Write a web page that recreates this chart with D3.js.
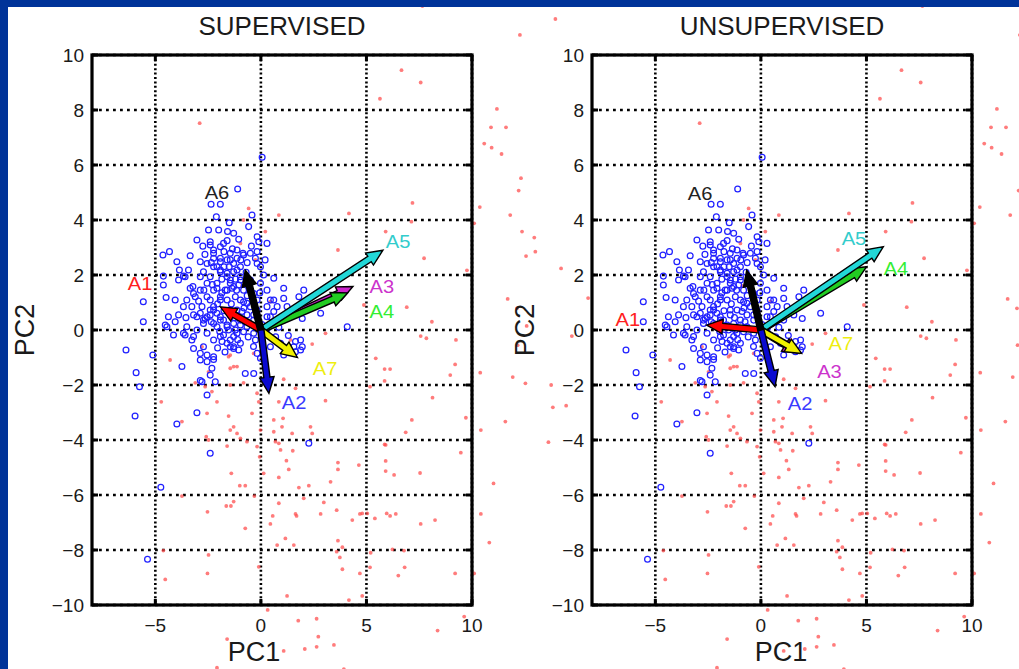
<!DOCTYPE html>
<html>
<head>
<meta charset="utf-8">
<script src="https://cdn.jsdelivr.net/npm/d3@7"></script>
<style>
body{margin:0;background:#fff;}
svg{display:block;}
text{font-family:"Liberation Sans",Arial,sans-serif;}
</style>
</head>
<body>
<div id="chart"></div>
<script>

// ---- data ----
var xTicks = [-5, 0, 5, 10];
var yTicks = [-10, -8, -6, -4, -2, 0, 2, 4, 6, 8, 10];
var panelTitles = ["SUPERVISED", "UNSUPERVISED"];
var axisNames = ["PC1", "PC2"];

var arrowNames = ["A1", "A2", "A3", "A4", "A5", "A6", "A7"];

// supervised arrows: tip positions and label centres
var supTipX = [-1.92, 0.38, 4.36, 4.11, 5.78, -0.74, 1.73];
var supTipY = [0.84, -2.30, 1.58, 1.35, 2.90, 2.18, -1.00];
var supLabelX = [-5.72, 1.57, 5.73, 5.73, 6.50, -2.08, 3.04];
var supLabelY = [1.67, -2.65, 1.56, 0.67, 3.22, 5.00, -1.40];

// unsupervised arrows
var unsTipX = [-2.57, 0.67, 1.80, 5.01, 5.80, -0.67, 1.93];
var unsTipY = [0.18, -2.06, -0.85, 2.30, 3.03, 2.18, -0.85];
var unsLabelX = [-6.30, 1.86, 3.25, 6.40, 4.41, -2.88, 3.79];
var unsLabelY = [0.36, -2.67, -1.51, 2.24, 3.31, 4.95, -0.51];

// red dots (other class)
var redDots = [
 [6.66,9.45],[7.57,9.0],[5.64,8.41],[11.18,8.04],[10.9,7.37],[11.61,7.37],[10.58,6.78],[10.93,6.63],[11.4,6.4],
 [12.32,5.52],[12.21,5.07],[7.18,4.62],[10.37,4.47],[7.13,3.94],[10.1,3.88],[11.81,4.18],[5.91,3.58],[12.37,3.58],
 [12.95,3.36],[7.73,2.61],[12.56,2.69],[13.0,2.85],[9.76,2.17],[14.22,2.24],[11.69,1.13],[6.91,0.83],[4.88,0.91],
 [8.1,0.3],[15.5,1.16],[12.59,0.15],[12.13,0.79],[-2.9,7.52],[7.65,11.78],[12.27,10.73],[13.95,11.31],
 [7.57,-0.22],[7.84,-0.3],[9.24,-0.36],[12.16,-0.55],[14.73,-0.22],[5.44,-1.03],[5.86,-1.42],[6.12,-1.42],[9.2,-1.25],
 [8.97,-1.64],[10.39,-1.55],[11.93,-1.71],[12.53,-1.94],[13.75,-2.0],[5.86,-1.85],[5.17,-2.06],[8.13,-2.46],
 [13.83,-2.81],[14.46,-2.75],[7.15,-3.27],[9.71,-3.19],[11.58,-3.33],[6.86,-3.72],[10.42,-3.64],[13.62,-4.08],
 [5.86,-4.16],[9.47,-4.46],[5.91,-4.76],[5.91,-5.13],[6.31,-5.27],[7.54,-5.2],[11.02,-5.58],[4.8,-6.67],[5.04,-6.67],
 [5.4,-6.85],[5.96,-6.67],[6.12,-6.76],[6.39,-6.69],[7.57,-7.05],[8.25,-6.91],[10.42,-6.69],[10.82,-7.73],[5.2,-8.1],
 [6.23,-7.98],[6.78,-8.02],[5.17,-8.63],[6.81,-8.63],[6.51,-8.93],[9.2,-8.85],[10.1,-8.85],[4.8,-9.67],[9.63,-10.42],
 [8.37,-10.93],
 [-1.6,-4.22],[-0.18,-4.24],[0.85,-4.12],[5.91,-4.18],[1.51,-4.39],[-1.4,-5.21],[-0.06,-4.61],[0.13,-5.21],[1.21,-4.75],
 [1.32,-5.07],[0.85,-5.36],[3.65,-4.82],[3.65,-5.07],[4.64,-4.91],[-1.0,-5.66],[-0.74,-5.66],[1.8,-5.73],[2.27,-5.66],
 [3.3,-5.52],[-3.74,-6.04],[-0.31,-6.04],[2.03,-6.12],[2.98,-6.27],[0.85,-6.3],[-1.29,-6.24],[-1.64,-6.4],[-1.42,-6.4],
 [-2.53,-6.61],[0.56,-6.76],[1.64,-6.69],[1.69,-6.76],[2.83,-6.69],[3.59,-6.55],[4.33,-6.91],[4.69,-6.69],[0.45,-7.05],
 [-0.74,-7.21],[1.16,-7.58],[0.77,-7.82],[1.56,-7.82],[3.65,-7.66],[3.86,-7.9],[3.59,-8.06],[3.74,-8.27],[3.86,-8.7],
 [4.69,-8.85],[4.17,-9.82],[1.24,-9.67],[-0.1,-8.61],[-2.48,-8.18],[-2.53,-8.85],[-4.62,-8.02],[-4.53,-9.07],
 [0.32,-10.18],[1.77,-10.57],[2.64,-10.5],[2.72,-11.15],[-1.6,-11.24],[1.08,-11.67],[2.08,-11.6],[2.64,-11.52],
 [3.46,-11.45],[-2.08,-12.28],[3.93,-12.33],
 [-0.58,4.42],[0.85,4.18],[4.17,4.24],[3.65,2.91],[0.21,3.58],[-0.97,3.15],[3.06,-0.12],[2.43,-0.51],[3.06,-2.57],
 [1.08,-1.79],[0.85,-2.61],[-0.1,-2.61],[0.61,-3.27],[1.05,-3.21],[1.0,-3.52],[-1.29,-3.52],[-1.45,-3.64],[-2.08,-2.61],
 [-2.55,-3.03],[-3.74,-3.33],[-4.72,-2.61],[-4.3,-1.09],[-2.79,-0.61],[-2.64,-2.06],[-3.11,-1.92],[-1.45,-0.91],
 [-1.29,-1.33],[-0.82,-1.92],[-0.18,-2.3],[-0.97,-3.94],[1.48,-3.76],[2.43,-3.76],
 [-1.53,-0.97],[-1.45,-1.39],[-1.13,-1.33],[-2.48,-1.52],[-1.53,-3.13],[-1.13,-3.76],[-2.59,-3.88],[-2.48,-4.0],
 [-1.45,-2.0],[-2.32,-2.24],[1.4,-0.36],[-0.34,-0.85],[1.64,-2.12],[-0.42,-3.03],[0.61,-3.7],[2.35,-3.52],[-0.02,-3.64],
 [0.69,-4.06],[0.93,-4.36],[-0.66,-4.06],[-0.26,2.55],[0.45,1.03],[-0.82,4.0],[-0.89,1.6]
];

// blue circles (cluster class)
var blueCircles = [
 [-1.1,5.13],[-2.36,4.57],[-1.92,4.57],[-2.11,4.12],[-2.48,3.64],[-2.0,3.64],[-1.58,3.58],[-3.03,3.27],[-2.4,3.21],
 [-1.6,3.25],[-1.13,2.91],[-4.64,2.73],[-4.33,2.85],[-2.87,2.48],[-2.24,2.79],[-1.92,2.61],[-2.08,2.3],[-1.45,2.55],
 [-1.13,2.61],[-3.98,2.48],[-3.86,2.18],[-3.43,2.18],[-3.9,1.82],[-4.62,1.96],[-4.62,1.64],[-5.57,1.03],[-4.49,1.18],
 [-3.67,1.96],[-3.22,1.58],[-2.87,1.94],[-2.55,1.7],[-3.11,1.21],[-3.27,0.85],[-2.79,0.85],[-2.4,1.09],[-1.92,1.21],
 [-2.24,0.73],[-3.03,0.48],[-4.38,0.48],[-1.92,2.18],[-1.6,2.06],[-1.45,1.82],[-1.13,2.18],[-0.97,1.94],[-2.08,1.52],
 [-1.69,1.45],[-1.37,1.52],[-1.05,1.64],[-1.6,1.09],[-1.21,1.21],[-0.82,1.03],[-2.64,0.42],[-1.92,0.48],[-1.45,0.55],
 [-0.42,4.18],[-1.29,3.52],[-0.18,3.39],[0.29,3.15],[-0.58,3.76],[-2.4,3.09],[-2.24,2.91],[-1.92,3.03],[-1.77,3.15],
 [-1.45,2.79],[-0.82,2.73],[-0.5,2.79],[-0.18,2.85],[-0.18,2.42],[0.13,2.0],[0.61,1.88],[-3.59,1.94],[-4.06,1.09],
 [-3.35,1.52],[-3.19,1.33],[-2.87,1.45],[-2.55,1.21],[-2.24,1.45],[-2.4,0.73],[-5.57,0.3],[-4.45,0.12],[-3.9,0.55],
 [-3.19,0.55],[-2.72,0.36],[-4.14,-0.18],[-3.67,-0.12],[-3.19,-0.24],[-3.27,-0.36],[-3.19,-0.67],[-2.72,-0.61],
 [-2.24,-0.36],[-1.92,-0.24],[-1.45,-0.36],[-1.29,-0.61],[-0.97,-0.48],[-2.87,-0.85],[-2.55,-0.91],[-2.24,-0.97],
 [-2.87,-1.09],[-3.74,-1.33],[-2.32,-1.39],[-2.4,-1.64],[-6.39,-0.73],[-5.12,-0.91],[-5.91,-1.55],[-5.75,-2.06],
 [-5.96,-3.13],[-3.98,-3.42],[-3.03,-3.01],[-2.55,-2.36],[-2.79,-1.88],[-2.16,-1.88],[-0.74,-1.58],[-0.34,-1.58],
 [-0.18,-0.85],[-0.02,-1.03],[1.08,-0.91],[1.88,-0.36],[1.96,-0.61],[1.56,-0.61],[4.09,0.12],[2.83,0.61],[1.96,0.42],
 [2.03,1.45],[1.08,1.52],[1.08,1.15],[0.77,0.85],[1.24,0.85],[0.29,1.45],[0.45,1.09],[-0.97,1.09],[-0.66,0.97],
 [-1.45,0.73],[-1.13,0.73],[-0.66,0.55],[-0.97,0.36],[-1.29,0.24],[-1.6,0.12],[-1.13,-0.12],[-1.6,-0.48],[-1.29,-0.67],
 [-0.1,3.21],[-0.85,2.79],[-0.26,2.61],[-0.02,2.3],[0.61,1.09],[1.8,1.21],
 [-4.06,0.3],[-4.53,0.18],[-2.87,0.61],[-2.4,0.55],[-3.59,-0.18],[-2.24,-1.07],[-2.55,-1.15],[-2.87,-1.84],[-2.4,-4.48],
 [-1.05,-0.73],[-1.45,-0.61],[-1.29,-0.24],[-1.77,-0.18],[-1.84,-0.42],[-1.53,0.0],[-1.21,0.0],[-0.97,0.18],[-0.82,-0.06],
 [-2.72,0.24],[-2.24,0.24],[-1.92,0.36],[-1.6,0.18],
 [-0.89,0.67],[-0.34,0.55],[0.45,0.48],[0.61,0.67],[1.08,0.36],[1.56,0.55],[-0.26,-0.36],[0.45,-0.61],[0.93,-0.48],
 [1.64,-0.42],[1.88,-0.73],[1.64,-0.79],[2.27,-4.12],
 [-2.24,2.3],[-1.92,2.12],[-1.6,1.94],[-1.29,2.12],[-0.97,1.82],[-1.45,1.7],[-2.08,1.7],[-2.4,1.94],[-2.72,2.12],
 [-1.29,2.42],[-0.97,2.3],[-1.6,2.55],[-1.92,2.48],[-2.24,2.61],[-2.55,2.42],[-0.82,1.45],[-0.34,1.33],[-0.18,1.09],
 [-0.5,0.85],[-0.18,0.73],[-1.92,1.09],[-2.24,0.85],[-2.08,0.61],[-2.55,0.48],[-1.77,0.36],[-2.08,0.12],[-0.34,0.36],
 [0.13,-0.12],[-0.34,-0.12],[-0.66,0.12],[-3.51,1.09],[-3.67,0.85],[-3.51,0.12],[-3.03,0.0],[-2.55,-0.12],[-1.6,1.45],
 [-1.29,1.58],[-0.5,1.82],[-0.02,1.7],[0.29,0.85],[0.29,0.48],
 [0.06,6.28],[-4.74,-5.72],[-5.37,-8.34],
 // dense core, second pass
 [-1.75,2.85],[-1.35,2.95],[-0.95,2.55],[-0.65,2.45],[-1.5,2.3],[-1.75,2.3],[-2.35,2.45],[-2.65,2.75],[-1.05,3.3],
 [-1.85,1.85],[-1.2,1.85],[-0.7,2.1],[-2.3,1.65],[-1.85,1.35],[-1.15,1.45],[-0.65,1.25],[-2.7,1.45],[-2.05,0.95],
 [-1.4,0.95],[-0.8,0.8],[-1.75,0.7],[-1.25,0.45],[-0.75,0.3],[-2.35,0.3],[-1.95,-0.05],[-1.1,-0.35],[-0.6,-0.25],
 [-2.05,-0.65],[-1.7,-0.8],[-0.35,-0.6],[0.05,0.2],[0.3,0.05],[-0.05,1.35],[0.2,2.55],[-0.45,3.05],[-1.5,3.9],
 [-2.75,3.05],[-3.35,2.7],[-2.95,1.05],[-3.55,0.45],[0.85,0.1],[0.7,-0.25],[1.3,-0.2]
];

// ---- styles ----
var arrowFill = ["#ff0000", "#0a0ad0", "#cc22cc", "#22cc22", "#22d8d8", "#000000", "#f0f000"];
var labelFill = ["#ff2020", "#3a3aff", "#cc33cc", "#33ee33", "#33cccc", "#222222", "#eeee10"];
var drawOrder = [2, 3, 4, 6, 0, 5, 1];

var W = 1019, H = 669;
var frameBlue = "#003399";

var svg = d3.select("#chart").append("svg")
    .attr("width", W)
    .attr("height", H);

svg.append("rect")
    .attr("width", W).attr("height", H)
    .style("fill", "#ffffff");

var fmt = d3.format("");

function arrowPath(x0, y0, x1, y1){
    var dx = x1-x0, dy = y1-y0, len = Math.sqrt(dx*dx+dy*dy);
    var ux = dx/len, uy = dy/len, nx = -uy, ny = ux;
    var hl = Math.min(16, len*0.5), hw = 7.2, sw = 3.1;
    var bx = x1-ux*hl, by = y1-uy*hl;
    var pts = [
        [x0+nx*sw, y0+ny*sw], [bx+nx*sw, by+ny*sw], [bx+nx*hw, by+ny*hw], [x1, y1],
        [bx-nx*hw, by-ny*hw], [bx-nx*sw, by-ny*sw], [x0-nx*sw, y0-ny*sw]
    ];
    return d3.line()(pts) + "Z";
}

function drawPanel(p){
    var x = d3.scaleLinear().domain([-8, 10]).range([p.left, p.left + 380]);
    var y = d3.scaleLinear().domain([-10, 10]).range([605, 55]);

    var g = svg.append("g").attr("class", "panel");

    // axes background (covers the neighbour's overflow)
    g.append("rect")
        .attr("x", x(-8)).attr("y", y(10))
        .attr("width", x(10)-x(-8)).attr("height", y(-10)-y(10))
        .style("fill", "#ffffff");

    // grid
    g.selectAll(".vgrid").data(xTicks).enter().append("line")
        .attr("class", "vgrid")
        .attr("x1", function(d){ return x(d); }).attr("x2", function(d){ return x(d); })
        .attr("y1", y(10)).attr("y2", y(-10))
        .style("stroke", "#000").style("stroke-width", 2.6)
        .style("stroke-dasharray", "2 2.4");
    g.selectAll(".hgrid").data(yTicks).enter().append("line")
        .attr("class", "hgrid")
        .attr("x1", x(-8)).attr("x2", x(10))
        .attr("y1", function(d){ return y(d); }).attr("y2", function(d){ return y(d); })
        .style("stroke", "#000").style("stroke-width", 2.6)
        .style("stroke-dasharray", "2.8 4.2");

    // points
    g.selectAll(".red").data(redDots).enter().append("circle")
        .attr("class", "red")
        .attr("cx", function(d){ return x(d[0]); })
        .attr("cy", function(d){ return y(d[1]); })
        .attr("r", 1.9)
        .style("fill", "#ff4a4a").style("fill-opacity", 0.72);

    g.selectAll(".blue").data(blueCircles).enter().append("circle")
        .attr("class", "blue")
        .attr("cx", function(d){ return x(d[0]); })
        .attr("cy", function(d){ return y(d[1]); })
        .attr("r", 2.9)
        .style("fill", "none")
        .style("stroke", "#2020ff").style("stroke-width", 1.25);

    // ticks (inward, all four sides)
    xTicks.forEach(function(t){
        g.append("line").attr("x1", x(t)).attr("x2", x(t)).attr("y1", y(-10)).attr("y2", y(-10)-6)
            .style("stroke", "#000").style("stroke-width", 3);
        g.append("line").attr("x1", x(t)).attr("x2", x(t)).attr("y1", y(10)).attr("y2", y(10)+6)
            .style("stroke", "#000").style("stroke-width", 3);
    });
    yTicks.forEach(function(t){
        g.append("line").attr("x1", x(-8)).attr("x2", x(-8)+6).attr("y1", y(t)).attr("y2", y(t))
            .style("stroke", "#000").style("stroke-width", 3);
        g.append("line").attr("x1", x(10)).attr("x2", x(10)-6).attr("y1", y(t)).attr("y2", y(t))
            .style("stroke", "#000").style("stroke-width", 3);
    });

    // box
    g.append("rect")
        .attr("x", x(-8)).attr("y", y(10))
        .attr("width", x(10)-x(-8)).attr("height", y(-10)-y(10))
        .style("fill", "none").style("stroke", "#000").style("stroke-width", 3.2);

    // arrows
    drawOrder.forEach(function(i){
        g.append("path")
            .attr("d", arrowPath(x(0), y(0), x(p.tipX[i]), y(p.tipY[i])))
            .style("fill", arrowFill[i])
            .style("stroke", "#000").style("stroke-width", 1.4)
            .style("stroke-linejoin", "miter");
    });

    // arrow labels
    arrowNames.forEach(function(name, i){
        g.append("text")
            .attr("transform", "translate(" + x(p.labX[i]) + "," + y(p.labY[i]) + ") scale(1.15,1)")
            .attr("dy", "0.36em")
            .attr("text-anchor", "middle")
            .style("font-size", "17.5px")
            .style("fill", labelFill[i])
            .text(name);
    });

    // tick labels
    g.selectAll(".xlab").data(xTicks).enter().append("text")
        .attr("class", "xlab")
        .attr("x", function(d){ return x(d); })
        .attr("y", 632)
        .attr("text-anchor", "middle")
        .style("font-size", "19px").style("fill", "#1a1a1a")
        .text(function(d){ return fmt(d); });
    g.selectAll(".ylab").data(yTicks).enter().append("text")
        .attr("class", "ylab")
        .attr("x", x(-8) - 8)
        .attr("y", function(d){ return y(d); })
        .attr("dy", "0.38em")
        .attr("text-anchor", "end")
        .style("font-size", "19px").style("fill", "#1a1a1a")
        .text(function(d){ return fmt(d); });

    // axis names and title
    g.append("text")
        .attr("x", p.xNameX).attr("y", 661)
        .attr("text-anchor", "middle")
        .style("font-size", "27px").style("fill", "#1a1a1a")
        .text(axisNames[0]);
    g.append("text")
        .attr("transform", "translate(" + (x(-8) - 58) + "," + y(0) + ") rotate(-90)")
        .attr("text-anchor", "middle")
        .style("font-size", "27px").style("fill", "#1a1a1a")
        .text(axisNames[1]);
    g.append("text")
        .attr("x", (x(-8) + x(10)) / 2).attr("y", 35)
        .attr("text-anchor", "middle")
        .style("font-size", "26px").style("fill", "#1a1a1a")
        .text(p.title);
}

drawPanel({left: 92, title: panelTitles[0], tipX: supTipX, tipY: supTipY, labX: supLabelX, labY: supLabelY, xNameX: 254});
drawPanel({left: 592, title: panelTitles[1], tipX: unsTipX, tipY: unsTipY, labX: unsLabelX, labY: unsLabelY, xNameX: 781});

// blue slide frame
svg.append("rect").attr("x", 0).attr("y", 0).attr("width", W).attr("height", 7).style("fill", frameBlue);
svg.append("rect").attr("x", 0).attr("y", 0).attr("width", 8).attr("height", H).style("fill", frameBlue);

</script>
</body>
</html>
